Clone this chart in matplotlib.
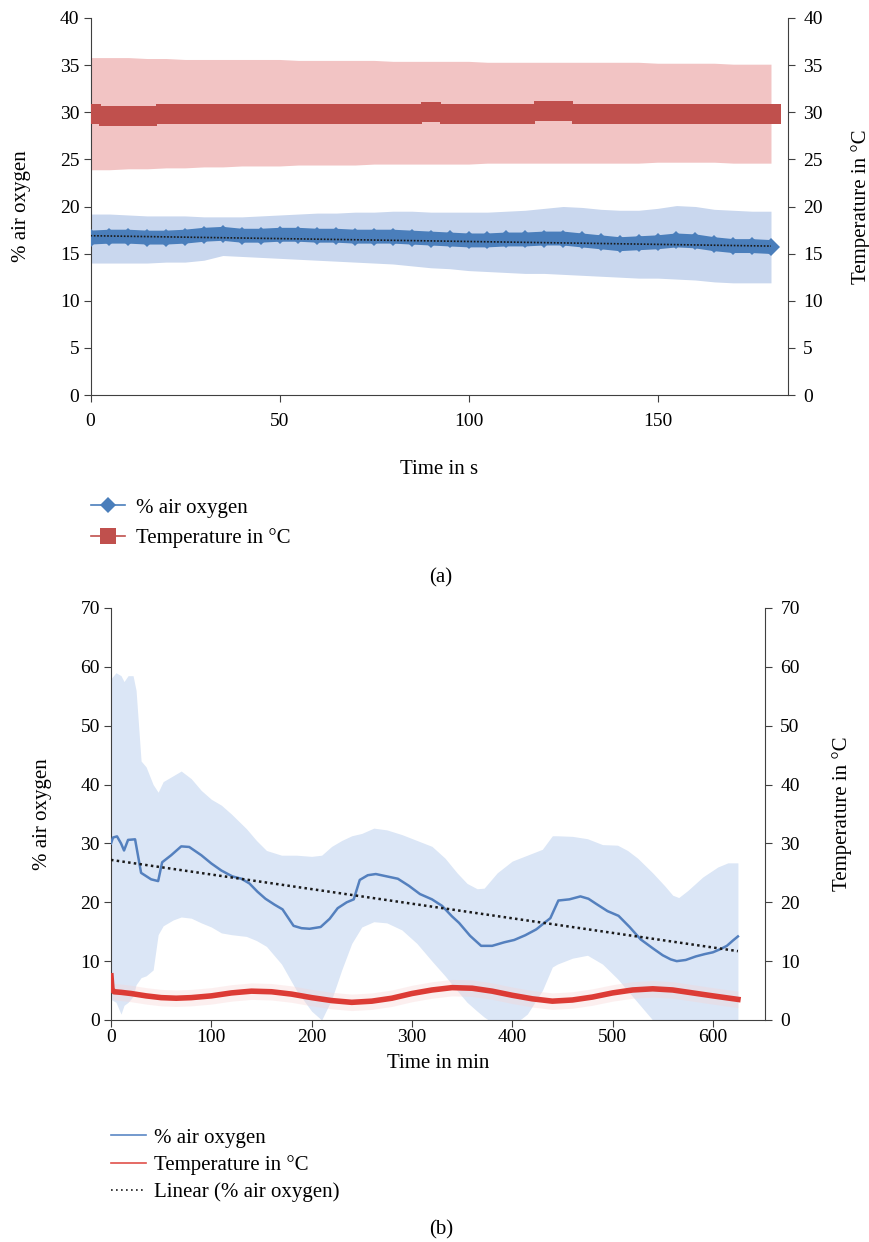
import numpy as np
import matplotlib
matplotlib.use("Agg")
import matplotlib.pyplot as plt
from matplotlib.lines import Line2D

plt.rcParams["font.family"] = ["Liberation Serif", "DejaVu Serif"]
plt.rcParams["font.size"] = 15

# ---------------- panel (a): seconds ----------------
time_a = np.arange(0, 181, 5)

oxy_a = [16.7, 16.8, 16.8, 16.7, 16.7, 16.8, 17.0, 17.1, 16.9, 16.9, 17.0, 17.0,
         16.9, 16.9, 16.8, 16.8, 16.8, 16.7, 16.6, 16.5, 16.4, 16.4, 16.5, 16.5,
         16.6, 16.6, 16.4, 16.2, 16.0, 16.1, 16.2, 16.4, 16.3, 16.0, 15.8, 15.8, 15.7]
oxy_a_hi = [19.2, 19.2, 19.1, 19.0, 19.0, 19.0, 18.9, 18.9, 18.9, 19.0, 19.1, 19.2,
            19.3, 19.3, 19.4, 19.4, 19.5, 19.5, 19.4, 19.4, 19.4, 19.4, 19.5, 19.6,
            19.8, 20.0, 19.9, 19.7, 19.6, 19.6, 19.8, 20.1, 20.0, 19.7, 19.6, 19.5, 19.5]
oxy_a_lo = [14.0, 14.0, 14.0, 14.0, 14.1, 14.1, 14.3, 14.8, 14.7, 14.6, 14.5, 14.4,
            14.3, 14.2, 14.1, 14.0, 13.9, 13.7, 13.5, 13.4, 13.2, 13.1, 13.0, 12.9,
            12.9, 12.8, 12.7, 12.6, 12.5, 12.4, 12.4, 12.3, 12.2, 12.0, 11.9, 11.9, 11.9]

temp_a = [29.8, 29.6, 29.6, 29.6, 29.8, 29.8, 29.8, 29.8, 29.8, 29.8, 29.8, 29.8,
          29.8, 29.8, 29.8, 29.8, 29.8, 29.8, 30.0, 29.8, 29.8, 29.8, 29.8, 29.8,
          30.1, 30.1, 29.8, 29.8, 29.8, 29.8, 29.8, 29.8, 29.8, 29.8, 29.8, 29.8, 29.8]
temp_a_hi = [35.8, 35.8, 35.8, 35.7, 35.7, 35.6, 35.6, 35.6, 35.6, 35.6, 35.6, 35.5,
             35.5, 35.5, 35.5, 35.5, 35.4, 35.4, 35.4, 35.4, 35.4, 35.3, 35.3, 35.3,
             35.3, 35.3, 35.3, 35.3, 35.3, 35.3, 35.2, 35.2, 35.2, 35.2, 35.1, 35.1, 35.1]
temp_a_lo = [23.9, 23.9, 24.0, 24.0, 24.1, 24.1, 24.2, 24.2, 24.3, 24.3, 24.3, 24.4,
             24.4, 24.4, 24.4, 24.5, 24.5, 24.5, 24.5, 24.5, 24.5, 24.6, 24.6, 24.6,
             24.6, 24.6, 24.6, 24.6, 24.6, 24.6, 24.7, 24.7, 24.7, 24.7, 24.6, 24.6, 24.6]

trend_a_t = [0, 180]
trend_a = [16.9, 15.8]

# ---------------- panel (b): minutes ----------------
oxy_b_t = [0, 2, 6, 10, 13, 17, 24, 30, 40, 47, 51, 60, 70, 78, 90, 100, 110, 121,
           130, 138, 146, 154, 163, 171, 182, 190, 198, 209, 218, 226, 235, 242, 248,
           256, 264, 275, 286, 297, 308, 320, 330, 340, 347, 358, 369, 380, 392, 402,
           413, 424, 432, 438, 446, 457, 468, 476, 484, 495, 506, 517, 528, 540, 550,
           558, 564, 573, 583, 592, 600, 607, 614, 620, 625]
oxy_b = [30.0, 31.0, 31.2, 30.0, 28.8, 30.6, 30.7, 25.0, 23.9, 23.6, 26.8, 28.0, 29.5,
         29.4, 28.0, 26.6, 25.4, 24.4, 24.0, 23.2, 21.8, 20.6, 19.6, 18.8, 16.0, 15.6,
         15.5, 15.8, 17.2, 19.0, 20.0, 20.5, 23.8, 24.6, 24.8, 24.4, 24.0, 22.8, 21.4,
         20.5, 19.4, 17.6, 16.5, 14.3, 12.6, 12.6, 13.2, 13.6, 14.4, 15.4, 16.5, 17.3,
         20.3, 20.5, 21.0, 20.6, 19.7, 18.5, 17.7, 15.8, 13.7, 12.2, 11.0, 10.3, 10.0,
         10.2, 10.8, 11.2, 11.5, 12.0, 12.6, 13.5, 14.2]

band_b_t = [0, 5, 10, 13, 17, 22, 25, 30, 35, 42, 47, 52, 62, 70, 80, 90, 100, 110,
            120, 135, 145, 155, 170, 185, 200, 210, 220, 230, 240, 250, 262, 275, 290,
            305, 320, 333, 345, 355, 365, 372, 385, 400, 415, 430, 440, 445, 460, 475,
            490, 505, 515, 525, 540, 552, 560, 566, 575, 590, 605, 615, 625]
band_b_hi = [58.0, 59.0, 58.5, 57.5, 58.5, 58.5, 56.0, 44.0, 43.0, 40.0, 38.7, 40.5,
             41.5, 42.3, 41.0, 39.0, 37.5, 36.5, 35.0, 32.5, 30.5, 28.8, 28.0, 28.0,
             27.8, 28.0, 29.5, 30.5, 31.3, 31.7, 32.6, 32.3, 31.5, 30.5, 29.5, 27.5,
             25.0, 23.2, 22.3, 22.4, 25.0, 27.0, 28.0, 29.0, 31.3, 31.3, 31.2, 30.8,
             29.8, 29.7, 28.8, 27.5, 25.0, 22.8, 21.2, 20.8, 22.0, 24.3, 26.0, 26.7, 26.7]
band_b_lo = [3.5, 3.0, 1.0, 2.5, 3.0, 4.0, 6.0, 7.2, 7.5, 8.5, 14.5, 16.0, 17.0, 17.5,
             17.3, 16.5, 15.8, 14.8, 14.5, 14.2, 13.5, 12.5, 9.5, 5.0, 1.5, 0.0, 3.5,
             8.5, 13.0, 15.8, 16.7, 16.5, 15.3, 13.0, 10.0, 7.5, 5.0, 3.0, 1.5, 0.5,
             -1.0, -1.0, 1.0, 5.0, 9.0, 9.5, 10.5, 11.0, 9.5, 7.0, 5.0, 3.0, 0.0,
             -1.0, -1.0, -1.0, -1.0, -1.0, -1.0, -1.0, -1.0]

temp_b_t = [0, 1, 3, 10, 20, 35, 50, 65, 80, 100, 120, 140, 160, 180, 200, 220, 240,
            260, 280, 300, 320, 340, 360, 380, 400, 420, 440, 460, 480, 500, 520, 540,
            560, 580, 600, 625]
temp_b = [7.5, 5.2, 4.8, 4.7, 4.5, 4.1, 3.8, 3.7, 3.8, 4.1, 4.6, 4.9, 4.8, 4.4, 3.8,
          3.3, 3.0, 3.2, 3.7, 4.5, 5.1, 5.5, 5.4, 4.9, 4.2, 3.6, 3.2, 3.4, 3.9, 4.6,
          5.1, 5.3, 5.1, 4.6, 4.1, 3.5]
temp_b_spread = 1.4

trend_b_t = [0, 625]
trend_b = [27.2, 11.7]

BLUE = "#4a7ebb"
BLUE_LIGHT = "#c9d7ee"
RED = "#c0504d"
RED_LIGHT = "#f2c4c4"
SPINE = "#404040"


def style_axes(ax, axr, ymax, ystep, xpad):
    for a in (ax, axr):
        a.set_ylim(0, ymax)
        a.set_yticks(np.arange(0, ymax + 1, ystep))
        a.spines["top"].set_visible(False)
        for s in a.spines.values():
            s.set_color(SPINE)
        a.tick_params(direction="out", length=5, color=SPINE, labelsize=14)
    ax.tick_params(axis="y", pad=3)
    axr.tick_params(axis="y", pad=6)
    ax.tick_params(axis="x", pad=xpad)
    ax.spines["right"].set_visible(False)
    axr.spines["left"].set_visible(False)
    axr.spines["bottom"].set_visible(False)


fig = plt.figure(figsize=(8.69, 12.42), dpi=100)

# ---------------- (a) ----------------
ax1 = fig.add_axes([90.5 / 869, 1 - 395 / 1242, 697.5 / 869, 377 / 1242])
ax1.fill_between(time_a, temp_a_lo, temp_a_hi, color=RED_LIGHT, lw=0, zorder=1)
ax1.fill_between(time_a, oxy_a_lo, oxy_a_hi, color=BLUE_LIGHT, lw=0, zorder=1)
ax1.plot(time_a, temp_a, color=RED, lw=1.2, marker="s", markersize=14,
         markeredgewidth=0, zorder=3)
ax1.plot(time_a, oxy_a, color=BLUE, lw=10, solid_capstyle="butt", zorder=2)
ax1.plot(time_a, oxy_a, color=BLUE, lw=1.2, marker="D", markersize=9,
         markeredgewidth=0, zorder=3)
ax1.plot(trend_a_t, trend_a, color="#1a1a1a", lw=1.2, ls=(0, (1, 1)), zorder=4)
ax1.set_xlim(0, 184.5)
ax1.set_xticks([0, 50, 100, 150])
ax1r = ax1.twinx()
style_axes(ax1, ax1r, 40, 5, xpad=8)
ax1.set_xlabel("Time in s")
ax1.xaxis.set_label_coords(0.5, -0.172)
ax1.set_ylabel("% air oxygen")
ax1.yaxis.set_label_coords(-0.086, 0.5)
ax1r.set_ylabel("Temperature in °C")
ax1r.yaxis.set_label_coords(1.09, 0.5)

h_a = [Line2D([], [], color=BLUE, lw=1.2, marker="D", markersize=8, markeredgewidth=0),
       Line2D([], [], color=RED, lw=1.2, marker="s", markersize=11, markeredgewidth=0)]
fig.legend(h_a, ["% air oxygen", "Temperature in °C"], loc="upper left",
           bbox_to_anchor=(91 / 869, 1 - 498 / 1242), frameon=False,
           handlelength=1.65, handletextpad=0.5, borderpad=0, borderaxespad=0,
           labelspacing=0.5)
fig.text(441 / 869, 1 - 578 / 1242, "(a)", ha="center", va="center")

# ---------------- (b) ----------------
ax2 = fig.add_axes([111 / 869, 1 - 1020 / 1242, 654 / 869, 412 / 1242])
ax2.fill_between(band_b_t, band_b_lo, band_b_hi, color="#dbe6f6", lw=0, zorder=1)
ax2.fill_between(temp_b_t, np.array(temp_b) - temp_b_spread,
                 np.array(temp_b) + temp_b_spread, color="#f7d3d3", alpha=0.35,
                 lw=0, zorder=1)
ax2.plot(oxy_b_t, oxy_b, color="#5480be", lw=1.8, zorder=3)
ax2.plot(temp_b_t, temp_b, color="#dc3b35", lw=4, zorder=3)
ax2.plot(trend_b_t, trend_b, color="#1a1a1a", lw=1.8, ls=(0, (1, 1.3)), zorder=4)
ax2.set_xlim(0, 652)
ax2.set_xticks(np.arange(0, 601, 100))
ax2r = ax2.twinx()
style_axes(ax2, ax2r, 70, 10, xpad=1.5)
ax2.set_xlabel("Time in min")
ax2.xaxis.set_label_coords(0.5, -0.082)
ax2.set_ylabel("% air oxygen")
ax2.yaxis.set_label_coords(-0.09, 0.5)
ax2r.set_ylabel("Temperature in °C")
ax2r.yaxis.set_label_coords(1.102, 0.5)

h_b = [Line2D([], [], color="#5b87c5", lw=1.2),
       Line2D([], [], color="#e0504a", lw=1.2),
       Line2D([], [], color="#1a1a1a", lw=1.2, ls=(0, (1, 2)))]
fig.legend(h_b, ["% air oxygen", "Temperature in °C", "Linear (% air oxygen)"],
           loc="upper left", bbox_to_anchor=(111 / 869, 1 - 1128 / 1242),
           frameon=False, handlelength=1.7, handletextpad=0.35,
           borderpad=0, borderaxespad=0, labelspacing=0.36)
fig.text(441 / 869, 1 - 1230 / 1242, "(b)", ha="center", va="center")

fig.savefig("out.png", dpi=100)
